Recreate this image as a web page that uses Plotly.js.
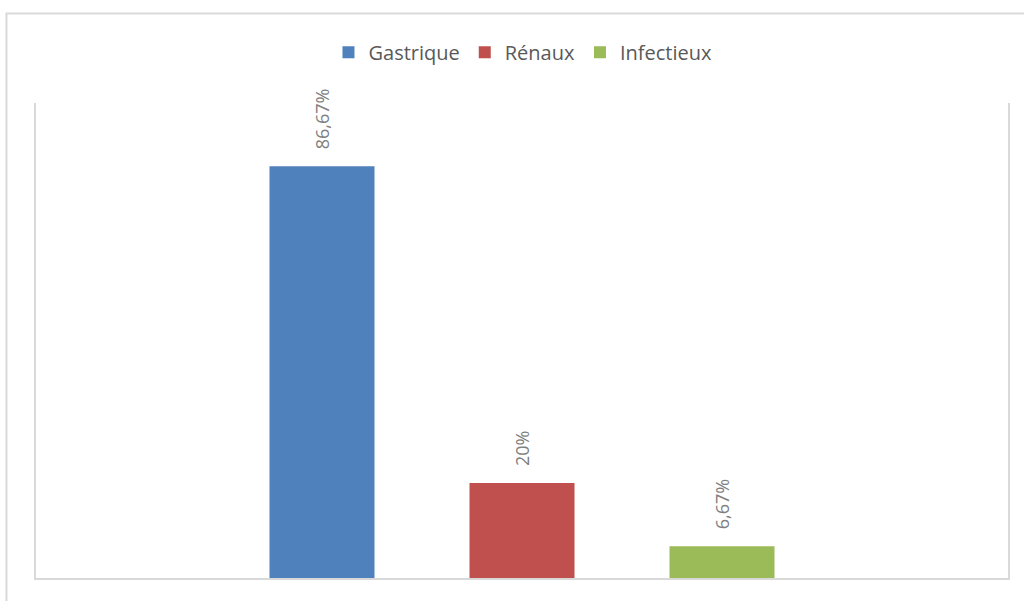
<!DOCTYPE html>
<html>
<head>
<meta charset="utf-8">
<script src="https://cdn.plot.ly/plotly-3.0.1.min.js"></script>
<style>
html,body{margin:0;padding:0;background:#fff;}
#chart{width:1024px;height:601px;}
</style>
</head>
<body>
<div id="chart"></div>
<script>
var category = [""];
var seriesNames = ["Gastrique", "Rénaux", "Infectieux"];
var seriesValues = [86.67, 20, 6.67];
var seriesLabels = ["86,67%", "20%", "6,67%"];
var seriesColors = ["#4f81bd", "#c0504d", "#9bbb59"];

var pad = "\u00a0\u00a0\u00a0";
var traces = seriesNames.map(function (name, i) {
  return {
    type: "bar",
    name: name,
    x: category,
    y: [seriesValues[i]],
    text: [pad + seriesLabels[i]],
    textposition: "outside",
    textangle: -90,
    cliponaxis: false,
    textfont: {family: "Open Sans, sans-serif", size: 18, color: "#808080"},
    marker: {color: seriesColors[i], line: {width: 0}},
    hoverinfo: "skip"
  };
});

var layout = {
  width: 1024,
  height: 601,
  paper_bgcolor: "#ffffff",
  plot_bgcolor: "#ffffff",
  margin: {l: 36, r: 16, t: 103, b: 23, pad: 0, autoexpand: false},
  barmode: "group",
  bargap: 0.3827,
  bargroupgap: 0.475,
  showlegend: true,
  legend: {
    orientation: "h",
    x: 0.501, xanchor: "center",
    y: 1.107, yanchor: "middle",
    bgcolor: "rgba(0,0,0,0)",
    font: {family: "Open Sans, sans-serif", size: 20, color: "#595959"},
    itemclick: false, itemdoubleclick: false
  },
  xaxis: {
    showticklabels: false,
    ticks: "",
    showgrid: false,
    zeroline: false,
    showline: true,
    linecolor: "#d9d9d9",
    linewidth: 2
  },
  yaxis: {
    range: [0, 100],
    showticklabels: false,
    ticks: "",
    showgrid: false,
    zeroline: false,
    showline: true,
    mirror: true,
    linecolor: "#d9d9d9",
    linewidth: 2
  },
  shapes: [{
    type: "rect",
    xref: "paper", yref: "paper",
    x0: -0.0304, x1: 1.03, y0: -0.08, y1: 1.1884,
    line: {color: "#d9d9d9", width: 2},
    fillcolor: "rgba(0,0,0,0)",
    layer: "below"
  }]
};

Plotly.newPlot("chart", traces, layout, {displayModeBar: false, staticPlot: true});
</script>
</body>
</html>
